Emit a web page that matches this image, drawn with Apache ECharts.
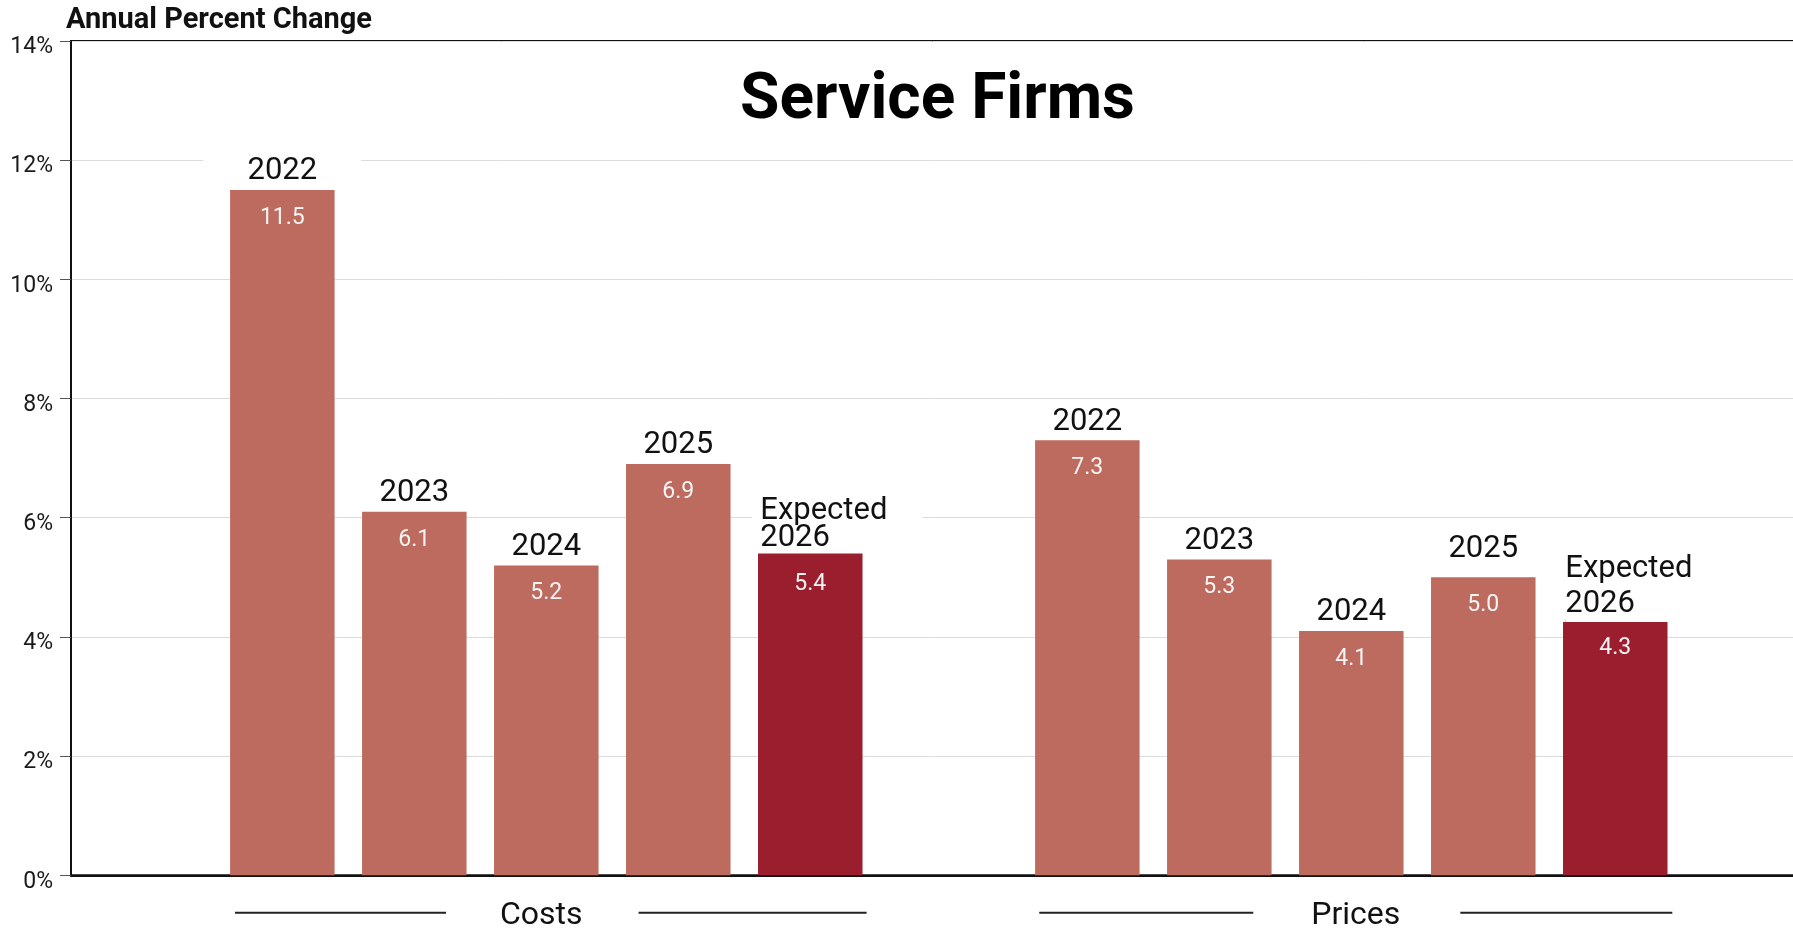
<!DOCTYPE html>
<html>
<head>
<meta charset="utf-8">
<title>Service Firms</title>
<script src="https://cdn.jsdelivr.net/npm/echarts@6/dist/echarts.min.js"></script>
<style>
  html, body { margin: 0; padding: 0; background: #ffffff; }
  #chart { width: 1793px; height: 930px; }
</style>
</head>
<body>
<div id="chart"></div>
<script>
// Annual percent change reported by service firms
const groups = ['Costs', 'Prices'];
const yearLabels = ['2022', '2023', '2024', '2025', 'Expected 2026'];
const costs = [11.5, 6.1, 5.2, 6.9, 5.4];
const prices = [7.3, 5.3, 4.1, 5.0, 4.3];
const yMin = 0, yMax = 14, yStep = 2;

const FONT = 'Roboto';
const BAR = '#bd6a5f';
const BAR_EXPECTED = '#9b1e2e';
const INK = '#111111';

// Year name above the bar (white box hides grid lines behind it), value inside the bar top.
// `lift` raises the year name further above the bar.
function yearLabel(lift) {
  return {
    show: true,
    position: 'top',
    distance: -58.5 - lift,
    formatter: p => '{yr|' + p.seriesName + '}\n{val|' + Number(p.value).toFixed(1) + '}',
    rich: {
      yr: { fontFamily: FONT, fontSize: 31, color: INK, width: 158, height: 32, lineHeight: 32,
            align: 'center', backgroundColor: '#ffffff' },
      val: { fontFamily: FONT, fontSize: 23, color: '#f4f4f4', height: 61 + 2 * lift,
             lineHeight: 61 + 2 * lift, align: 'center' }
    }
  };
}

// Two-line, left-aligned name for the expected year.
function expectedLabel(lineGap, valueBox, dist) {
  return {
    show: true,
    position: 'top',
    distance: dist,
    offset: [27, 0],
    formatter: p => {
      const words = p.seriesName.split(' ');
      return '{sp|}{yl|' + words[0] + '}\n{sp|}{yl|' + words[1] + '}\n{val|' +
        Number(p.value).toFixed(1) + '}{vr|}';
    },
    rich: {
      sp: { width: 8, height: lineGap, lineHeight: lineGap, align: 'left', backgroundColor: '#ffffff' },
      yl: { fontFamily: FONT, fontSize: 31, color: INK, width: 162, height: lineGap, lineHeight: lineGap,
            align: 'left', backgroundColor: '#ffffff' },
      val: { fontFamily: FONT, fontSize: 23, color: '#f4f4f4', width: 116, height: valueBox,
             lineHeight: valueBox, align: 'center' },
      vr: { width: 54, height: valueBox, lineHeight: valueBox, align: 'right' }
    }
  };
}

// [line spacing, value box height, label distance] for Costs / Prices
const expectedLayout = [[27, 64, -62.5], [35, 52, -55]];
// extra lift of the year name, per series and group (Prices 2025 sits higher)
const yearLift = [[0, 0], [0, 0], [0, 0], [0, 9.5]];

const series = yearLabels.map((name, i) => {
  const expected = i === yearLabels.length - 1;
  const values = [costs[i], prices[i]];
  return {
    name: name,
    type: 'bar',
    xAxisIndex: 1,
    yAxisIndex: 1,
    barWidth: 104.5,
    barGap: '26.3%',
    itemStyle: { color: expected ? BAR_EXPECTED : BAR },
    emphasis: { disabled: true },
    data: values.map((v, g) => ({
      value: v,
      label: expected
        ? expectedLabel(expectedLayout[g][0], expectedLayout[g][1], expectedLayout[g][2])
        : yearLabel(yearLift[i][g])
    }))
  };
});

// Group name flanked by rules spanning the group's bars
const groupRules = [
  { left: 211, gapL: 54, gapR: 56, right: 228 },
  { left: 214, gapL: 58, gapR: 60, right: 212 }
];
const groupRich = {
  nm: { fontFamily: FONT, fontSize: 32, color: INK, lineHeight: 33, height: 33, verticalAlign: 'bottom' }
};
groupRules.forEach((r, g) => {
  groupRich['la' + g] = { width: r.left, height: 2, backgroundColor: '#222222', verticalAlign: 'middle' };
  groupRich['ra' + g] = { width: r.right, height: 2, backgroundColor: '#222222', verticalAlign: 'middle' };
  groupRich['ga' + g] = { width: r.gapL, height: 40, lineHeight: 40 };
  groupRich['gb' + g] = { width: r.gapR, height: 40, lineHeight: 40 };
});

const chart = echarts.init(document.getElementById('chart'), null, { renderer: 'canvas' });

chart.setOption({
  animation: false,
  backgroundColor: '#ffffff',
  textStyle: { fontFamily: FONT },
  title: [
    {
      text: 'Service Firms',
      left: 740,
      top: 69.5,
      padding: 0,
      textStyle: { fontFamily: FONT, fontWeight: 'bold', fontSize: 64, color: '#000000' }
    },
    {
      text: 'Annual Percent Change',
      left: 66,
      top: 6,
      padding: 0,
      textStyle: { fontFamily: FONT, fontWeight: 'bold', fontSize: 29, color: INK }
    }
  ],
  grid: [
    // frame: y axis, gridlines, baseline and top rule
    { left: 71, right: -3, top: 41, bottom: 54.7, show: true, borderColor: INK, borderWidth: 2,
      backgroundColor: 'transparent', outerBoundsMode: 'none' },
    // bars
    { left: 143.8, right: 39.2, top: 41, bottom: 54.7, outerBoundsMode: 'none' }
  ],
  xAxis: [
    {
      gridIndex: 0, type: 'value', min: 0, max: 1,
      axisLine: { show: true, lineStyle: { color: INK, width: 2 } },
      axisTick: { show: false }, axisLabel: { show: false }, splitLine: { show: false }
    },
    {
      gridIndex: 1, type: 'category', data: groups,
      axisLine: { show: false }, axisTick: { show: false }, splitLine: { show: false },
      axisLabel: {
        interval: 0,
        margin: 17.5,
        padding: [0, 0, 0, 9],
        formatter: (v, g) => '{la' + g + '|}{ga' + g + '|}{nm|' + v + '}{gb' + g + '|}{ra' + g + '|}',
        rich: groupRich
      }
    }
  ],
  yAxis: [
    {
      gridIndex: 0, type: 'value', min: yMin, max: yMax, interval: yStep,
      axisLine: { show: true, lineStyle: { color: INK, width: 2 } },
      axisTick: { show: true, length: 11, lineStyle: { color: '#555555', width: 1 } },
      axisLabel: {
        margin: 18,
        formatter: v => '{s|}\n{v|' + v + '%}',
        rich: {
          s: { height: 13, lineHeight: 13 },
          v: { fontFamily: FONT, fontSize: 23, color: '#1a1a1a', lineHeight: 22, height: 22 }
        }
      },
      splitLine: { show: true, lineStyle: { color: '#dcdcdc', width: 1 } }
    },
    {
      gridIndex: 1, type: 'value', min: yMin, max: yMax, interval: yStep, show: false
    }
  ],
  series: series
});
</script>
</body>
</html>
